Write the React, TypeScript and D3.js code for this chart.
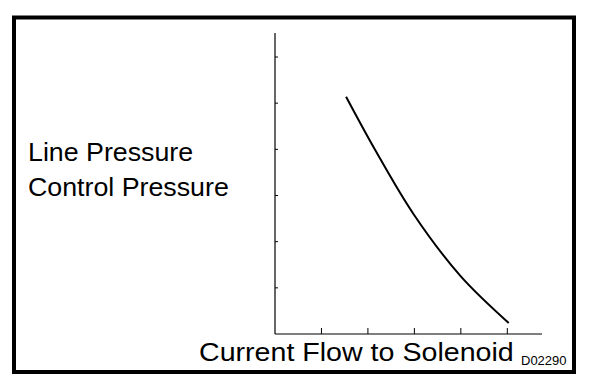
import React, { useEffect, useRef } from 'react';
import * as d3 from 'd3';

// curve (x in tick units, y in tick units)
const currentValues = [1.53, 2.16, 2.98, 3.99, 5.03];
const pressureValues = [5.14, 3.98, 2.6, 1.26, 0.24];
const xTicks = [1, 2, 3, 4, 5];
const yTicks = [1, 2, 3, 4, 5, 6];
const yLabels = ['Line Pressure', 'Control Pressure'];
const xLabel = 'Current Flow to Solenoid';
const figCode = 'D02290';

function App() {
    const ref = useRef<SVGSVGElement>(null);

    useEffect(() => {
        const svg = d3.select(ref.current);
        svg.selectAll('*').remove();

        const font = 'Arial, "Liberation Sans", sans-serif';

        // frame
        svg.append('rect')
            .attr('x', 14).attr('y', 17.5)
            .attr('width', 560).attr('height', 354.5)
            .attr('fill', 'white')
            .attr('stroke', 'black')
            .attr('stroke-width', 4);

        const x = d3.scaleLinear().domain([0, 5]).range([275, 507.3]);
        const y = d3.scaleLinear().domain([0, 6]).range([334, 57]);

        // axes
        svg.append('line')
            .attr('x1', x(0)).attr('x2', x(0))
            .attr('y1', 33).attr('y2', y(0))
            .attr('stroke', 'black').attr('stroke-width', 1.2);
        svg.append('line')
            .attr('x1', x(0)).attr('x2', 542)
            .attr('y1', y(0)).attr('y2', y(0))
            .attr('stroke', 'black').attr('stroke-width', 1.2);

        svg.append('g').selectAll('line')
            .data(yTicks)
            .join('line')
            .attr('x1', x(0)).attr('x2', x(0) + 3)
            .attr('y1', (d) => y(d)).attr('y2', (d) => y(d))
            .attr('stroke', 'black').attr('stroke-width', 1);

        svg.append('g').selectAll('line')
            .data(xTicks)
            .join('line')
            .attr('x1', (d) => x(d)).attr('x2', (d) => x(d))
            .attr('y1', y(0)).attr('y2', y(0) - 6)
            .attr('stroke', 'black').attr('stroke-width', 1);

        // curve
        const pts = currentValues.map((c, i) => [c, pressureValues[i]] as [number, number]);
        svg.append('path')
            .datum(pts)
            .attr('fill', 'none')
            .attr('stroke', 'black')
            .attr('stroke-width', 2)
            .attr('d', d3.line<[number, number]>()
                .x((d) => x(d[0]))
                .y((d) => y(d[1]))
                .curve(d3.curveCatmullRom));

        // labels, a little stretched like the original print
        const baselines = [161, 196];
        yLabels.forEach((t, i) => {
            svg.append('text')
                .attr('transform', `translate(28,${baselines[i]}) scale(1.03,1)`)
                .attr('font-family', font)
                .attr('font-size', 26)
                .attr('fill', 'black')
                .text(t);
        });

        svg.append('text')
            .attr('transform', 'translate(199,361) scale(1.1,1)')
            .attr('font-family', font)
            .attr('font-size', 26)
            .attr('fill', 'black')
            .text(xLabel);

        svg.append('text')
            .attr('transform', 'translate(521,365)')
            .attr('font-family', font)
            .attr('font-size', 13)
            .attr('fill', 'black')
            .text(figCode);
    }, []);

    return (
        <svg ref={ref} width={608} height={390}
            style={{ position: 'absolute', left: 0, top: 0, background: 'white' }} />
    );
}

export default App;
